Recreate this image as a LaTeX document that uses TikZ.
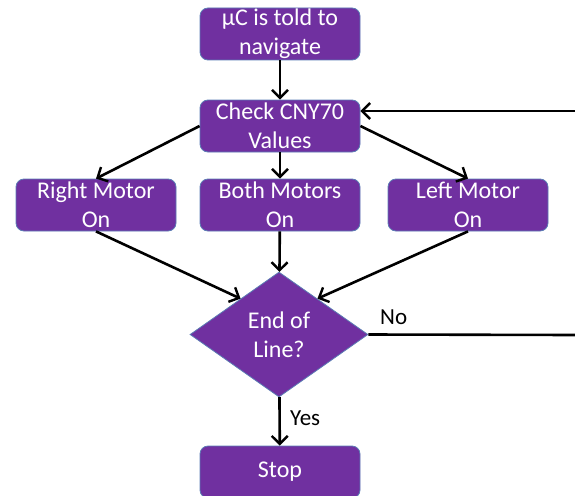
\documentclass[tikz,border=0pt]{standalone}
\usepackage{fontspec}
\setmainfont{Carlito}
\usetikzlibrary{shapes.geometric,arrows.meta,calc}
\definecolor{boxfill}{HTML}{7030A0}
\definecolor{boxline}{HTML}{5B7CB4}
\begin{document}
\begin{tikzpicture}[x=1pt,y=-1pt,
  stepbox/.style={draw=boxline, line width=0.8pt, fill=boxfill, rounded corners=8pt,
    minimum width=160pt, minimum height=52pt, inner sep=0pt, text=white, align=center,
    font=\fontsize{24}{29}\selectfont},
  decision/.style={diamond, draw=boxline, line width=0.8pt, fill=boxfill,
    minimum width=178pt, minimum height=125pt, inner sep=0pt, text=white, align=center,
    font=\fontsize{24}{29}\selectfont},
  flow/.style={-{Straight Barb[length=8pt,width=16pt,line width=2.4pt]}, line width=2.6pt},
  lbl/.style={font=\fontsize{23}{27}\selectfont, inner sep=0pt}]
  \useasboundingbox (0,0) rectangle (575,495);

  % process steps
  \node[stepbox] (start) at (280,34)  {µC is told to\\navigate};
  \node[stepbox] (chk)   at (280,126) {Check CNY70\\Values};
  \node[stepbox] (rm)    at (96,205)  {Right Motor\\On};
  \node[stepbox] (bm)    at (280,205) {Both Motors\\On};
  \node[stepbox] (lm)    at (468,205) {Left Motor\\On};
  \node[decision] (dec)  at (279,334.5) {End of\\Line?};
  \node[stepbox] (stop)  at (280,472) {Stop};

  % loose ends of the loop back to the check
  \coordinate (noend) at (575,335);
  \coordinate (fbin)  at (575,111);

  % connectors
  \draw[flow] (start) -- (chk);
  \draw[flow] (chk.west) -- (rm.north);
  \draw[flow] (chk) -- (bm);
  \draw[flow] (chk.east) -- (lm.north);
  \draw[flow] (rm.south) -- ($(dec.west)!0.57!(dec.north)$);
  \draw[flow] (bm) -- (dec);
  \draw[flow] (lm.south) -- ($(dec.east)!0.57!(dec.north)$);
  \draw[flow] (dec) -- (stop);
  \draw[line width=2.6pt] (dec.east) -- (noend);
  \draw[flow] (fbin) -- (fbin -| chk.east);

  % branch labels
  \node[lbl, anchor=base west] (nolbl)  at (380,324) {No};
  \node[lbl, anchor=base west] (yeslbl) at (290,425) {Yes};
\end{tikzpicture}
\end{document}
